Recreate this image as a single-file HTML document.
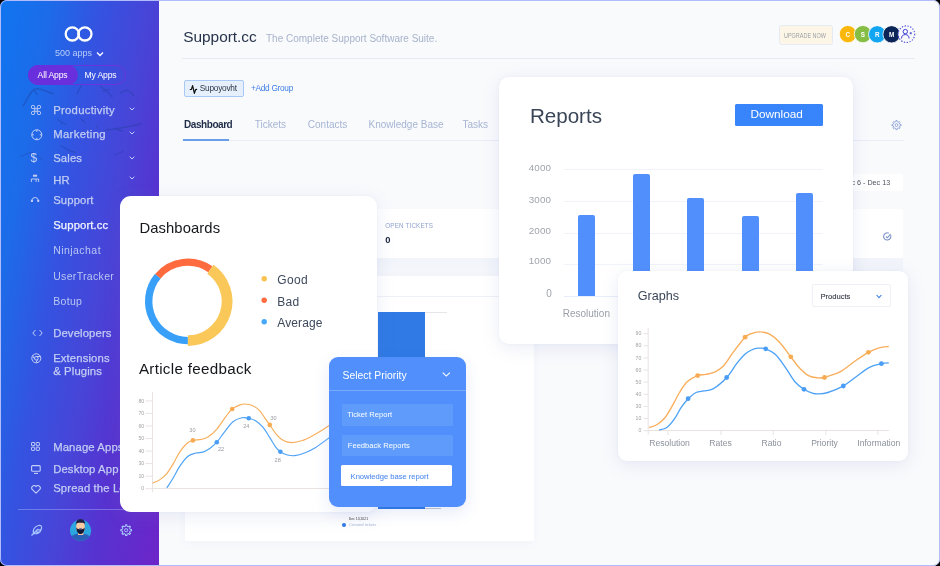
<!DOCTYPE html>
<html><head><meta charset="utf-8">
<style>
*{margin:0;padding:0;box-sizing:border-box}
html,body{width:940px;height:566px;background:#000;overflow:hidden;font-family:"Liberation Sans",sans-serif}
#frame{position:absolute;left:0;top:0;width:940px;height:566px;border-radius:7px;background:#f9fafc;overflow:hidden;will-change:transform}
#bord{position:absolute;left:0;top:0;width:940px;height:566px;border-radius:7px;border:1px solid #b3bcfb;z-index:100}
.a{position:absolute}
.t{position:absolute;white-space:nowrap;line-height:1}
#side{position:absolute;left:0;top:0;width:159px;height:566px;background:linear-gradient(100deg,#1075f0 0%,#1d6be9 20%,#3552e0 40%,#4745d8 58%,#5633d0 74%,#6d25c9 100%)}
.nav{position:absolute;left:53.2px;font-size:11.3px;color:#c2cdf4;letter-spacing:0.12px;-webkit-text-stroke:0.25px currentColor;white-space:nowrap;line-height:1}
.sub{position:absolute;left:53.2px;font-size:10.5px;color:#b9c7f3;letter-spacing:.33px;white-space:nowrap;line-height:1}
.chev{position:absolute;left:129px;width:6px;height:4px}
.ico{position:absolute;left:30px}
.card{position:absolute;background:#fff;border-radius:10px;box-shadow:0 4px 18px rgba(120,130,200,.14),0 0 4px rgba(120,130,200,.06)}
</style></head><body>
<div id="frame">

<!-- ================= SIDEBAR ================= -->
<div id="side"><div class="a" style="left:0;top:0.9px;width:159px;height:564px">
  <!-- birds -->
  <svg class="a" style="left:0;top:-0.9px" width="159" height="200" viewBox="0 0 159 200">
    <g fill="none" stroke="#1f3d9a" stroke-linecap="round" stroke-linejoin="round" opacity=".4">
      <path d="M23.2 105.8 C27 99 30 93 33.6 89.6 C36 88.6 38.5 88.6 41 89.4 C45 90.6 49 92.6 53 93.6" stroke-width="1.5"/>
      <path d="M33.6 90 L37.3 94.6" stroke-width="1.3"/>
      <path d="M76.8 94.3 C78.2 91.5 80 88 81.6 85.4" stroke-width="1.1"/>
      <path d="M100.1 86.3 C104 88.5 108 92 112 96.8 M103 91.2 L109 89.7" stroke-width="1.2"/>
      <path d="M120.6 93.4 C122.5 91.6 124.6 90.4 126.9 90.4 C129.5 91 131.8 93.2 133.6 95.6" stroke-width="1.2"/>
      <path d="M57.6 119.6 C60.5 121 63.5 123 66.3 124.9 M61.3 121.6 L61.8 124.2" stroke-width="1"/>
      <path d="M80.4 118.4 C82.3 120 84 121.8 85.6 123.7 M82 121.5 L84.3 120.3" stroke-width="1"/>
      <path d="M96.6 125.5 L97.3 128.4" stroke-width="1"/>
      <path d="M105.5 130.1 C112 129.3 118 128.6 124 127.5 C130 126.5 136 125.4 140.6 123.7 M116 129.3 L122 131" stroke-width="1.4"/>
      <path d="M61 146 C65 148 70 150.5 75.1 152.4" stroke-width=".9"/>
      <path d="M114.9 154.7 C117.8 153.5 120.8 152.3 123.7 151.2" stroke-width="1"/>
      <path d="M21.3 156.2 C24.5 154.8 28 153 31.5 152.6 C35 153 39 156 42.1 160" stroke-width=".9"/>
      <path d="M61.3 145.5 C63.5 147.3 65.8 149 68.1 150.6 C70.5 151.3 73 151.8 75.3 152.3" stroke-width=".9"/>
    </g>
  </svg>
  <!-- logo -->
  <svg class="a" style="left:63px;top:24.2px" width="32" height="18" viewBox="0 0 32 18">
    <circle cx="9.3" cy="8.9" r="6.6" fill="none" stroke="#fff" stroke-width="2.3"/>
    <circle cx="21.9" cy="8.9" r="6.6" fill="none" stroke="#fff" stroke-width="2.3"/>
  </svg>
  <div class="t" style="left:55px;top:48px;font-size:9px;color:#b7cdf7">500 apps</div>
  <svg class="a" style="left:96px;top:50.6px" width="8" height="6" viewBox="0 0 8 6"><path d="M1 1.5 L4 4.5 L7 1.5" fill="none" stroke="#fff" stroke-width="1.3"/></svg>
  <!-- toggle -->
  <div class="a" style="left:27.5px;top:64.5px;width:98.5px;height:19.5px;border:1.5px solid #6a34dc;border-radius:10px"></div>
  <div class="a" style="left:27.5px;top:64.5px;width:50px;height:19.5px;background:#6a2fdc;border-radius:10px"></div>
  <div class="t" style="left:37.6px;top:70.3px;font-size:8.6px;color:#fff;letter-spacing:-.15px">All Apps</div>
  <div class="t" style="left:84.5px;top:70.3px;font-size:8.6px;color:#fff;letter-spacing:-.15px">My Apps</div>

  <!-- nav -->
  <div class="nav" style="top:104px;letter-spacing:.28px">Productivity</div>
  <div class="nav" style="top:128px;letter-spacing:.35px">Marketing</div>
  <div class="nav" style="top:152px">Sales</div>
  <div class="nav" style="top:174px">HR</div>
  <div class="nav" style="top:194px">Support</div>
  <div class="nav" style="top:219.3px;color:#f2f5ff">Support.cc</div>
  <div class="sub" style="top:243.9px;letter-spacing:.45px">Ninjachat</div>
  <div class="sub" style="top:270.1px">UserTracker</div>
  <div class="sub" style="top:294.8px">Botup</div>
  <div class="nav" style="top:327.2px">Developers</div>
  <div class="nav" style="top:351.8px">Extensions</div>
  <div class="nav" style="top:364.8px">&amp; Plugins</div>
  <div class="nav" style="top:441.1px">Manage Apps</div>
  <div class="nav" style="top:462.7px">Desktop App</div>
  <div class="nav" style="top:482.4px">Spread the Love</div>

  <!-- chevrons -->
  <svg class="chev" style="top:106.5px" viewBox="0 0 6 4"><path d="M.7 .7 L3 3 L5.3 .7" fill="none" stroke="#c4d0f6" stroke-width="1"/></svg>
  <svg class="chev" style="top:130.5px" viewBox="0 0 6 4"><path d="M.7 .7 L3 3 L5.3 .7" fill="none" stroke="#c4d0f6" stroke-width="1"/></svg>
  <svg class="chev" style="top:154.8px" viewBox="0 0 6 4"><path d="M.7 .7 L3 3 L5.3 .7" fill="none" stroke="#c4d0f6" stroke-width="1"/></svg>
  <svg class="chev" style="top:175.5px" viewBox="0 0 6 4"><path d="M.7 .7 L3 3 L5.3 .7" fill="none" stroke="#c4d0f6" stroke-width="1"/></svg>

  <!-- icons -->
  <svg class="ico" style="top:104px;left:31.3px" width="10" height="10" viewBox="0 0 10 10"><path d="M3.7 8 V2 A1.7 1.7 0 1 0 2 3.7 H8 A1.7 1.7 0 1 0 6.3 2 V8 A1.7 1.7 0 1 0 8 6.3 H2 A1.7 1.7 0 1 0 3.7 8 Z" fill="none" stroke="#c2cdf4" stroke-width="0.9"/></svg>
  <svg class="ico" style="top:128.6px;left:31px" width="12" height="12" viewBox="0 0 12 12"><circle cx="5.8" cy="5.8" r="5" fill="none" stroke="#c4d0f6" stroke-width="1"/><path d="M5.8 .8 V2.8 M5.8 8.8 V10.8 M.8 5.8 H2.8 M8.8 5.8 H10.8" stroke="#c4d0f6" stroke-width="1"/></svg>
  <div class="t" style="left:30.5px;top:151.5px;font-size:12px;color:#c4d0f6">$</div>
  
  <svg class="a" style="left:28px;top:169.1px" width="16" height="36" viewBox="28 170 16 36"><rect x="33" y="174.7" width="4.1" height="2" fill="#c2cdf4"/><path d="M31.4 182 V179 H38.6 V182 M36.1 179 V182" fill="none" stroke="#c2cdf4" stroke-width="0.95"/><path d="M31.9 201 V200 A3.3 3.3 0 0 1 38.3 200 V201" fill="none" stroke="#c2cdf4" stroke-width="0.95"/><rect x="31" y="199.7" width="1.9" height="2.4" rx=".5" fill="#c2cdf4"/><rect x="37.3" y="199.7" width="1.9" height="2.4" rx=".5" fill="#c2cdf4"/></svg>
  <svg class="ico" style="top:328.5px;left:31.5px" width="11" height="8" viewBox="0 0 11 8"><path d="M3.5 1 L0.8 4 L3.5 7 M7.5 1 L10.2 4 L7.5 7" fill="none" stroke="#c4d0f6" stroke-width="1"/></svg>
  <svg class="ico" style="top:352.5px;left:31.2px" width="11" height="11" viewBox="0 0 11 11"><circle cx="5.3" cy="5.3" r="4.5" fill="none" stroke="#c4d0f6" stroke-width="1"/><circle cx="5.3" cy="5.3" r="1.8" fill="none" stroke="#c4d0f6" stroke-width="1"/><path d="M5.3 3.5 H9.6 M3.7 6.2 L1.6 2.5 M6.9 6.2 L4.8 9.8" stroke="#c4d0f6" stroke-width="1"/></svg>
  <svg class="ico" style="top:441.2px;left:31.3px" width="9" height="9" viewBox="0 0 9 9"><rect x="0.5" y="0.5" width="3.2" height="3.2" rx=".6" fill="none" stroke="#c4d0f6" stroke-width="1"/><rect x="5.2" y="0.5" width="3.2" height="3.2" rx=".6" fill="none" stroke="#c4d0f6" stroke-width="1"/><rect x="0.5" y="5.2" width="3.2" height="3.2" rx=".6" fill="none" stroke="#c4d0f6" stroke-width="1"/><rect x="5.2" y="5.2" width="3.2" height="3.2" rx=".6" fill="none" stroke="#c4d0f6" stroke-width="1"/></svg>
  <svg class="ico" style="top:464.5px;left:31px" width="10" height="9" viewBox="0 0 10 9"><rect x="0.6" y="0.6" width="8.6" height="5.6" rx="1" fill="none" stroke="#c4d0f6" stroke-width="1.1"/><path d="M3 8.4 H7" stroke="#c4d0f6" stroke-width="1.1"/></svg>
  <svg class="ico" style="top:484.5px;left:31px" width="10" height="9" viewBox="0 0 10 9"><path d="M5 8.2 L1.2 4.4 A2.2 2.2 0 0 1 5 1.6 A2.2 2.2 0 0 1 8.8 4.4 Z" fill="none" stroke="#c4d0f6" stroke-width="1.1" stroke-linejoin="round"/></svg>

  <div class="a" style="left:18px;top:508.5px;width:140px;height:1px;background:rgba(170,180,255,.45)"></div>
  <!-- bottom icons -->
  <svg class="a" style="left:30px;top:523.3px" width="13" height="13" viewBox="0 0 13 13"><path d="M1.5 11.5 L8 5 M3.5 9.5 C2.5 6 4.5 2.5 8.5 1.5 C11 1 12 2 11.5 4.5 C10.5 8.5 7 10.5 3.5 9.5 Z M5 8 H9 M6.5 5.8 H10.8" fill="none" stroke="#a8c8ff" stroke-width="1.2"/></svg>
  <svg class="a" style="left:69px;top:517.1px" width="24" height="25" viewBox="69 518 24 25">
    <defs><clipPath id="av"><circle cx="80.6" cy="530.4" r="10.6"/></clipPath></defs>
    <circle cx="80.6" cy="530.4" r="10.6" fill="#2ca6e0"/>
    <g clip-path="url(#av)">
      <path d="M68 543 C69 536 74 533.5 80.6 533.5 C87 533.5 92 536 93 543Z" fill="#2a5fb8"/>
      <rect x="78" y="531" width="5.4" height="4" fill="#f2c19c"/>
    </g>
    <path d="M76.3 525 C76.3 522 77.8 520.2 80.5 520.2 C83.3 520.2 84.8 522 84.8 525 V528.5 C84.8 531 83 532.2 80.5 532.2 C78 532.2 76.3 531 76.3 528.5Z" fill="#f9cba3"/>
    <path d="M75.9 525.2 C75.6 521 77.5 519.3 80.5 519.3 C83.6 519.3 85.4 521 85.1 525.2 L84.4 523.2 C82 522.6 79 522.6 76.6 523.2Z" fill="#1b2140"/>
    <path d="M76.3 527.5 C76.5 532 78.3 534 80.5 534 C82.7 534 84.5 532 84.7 527.5 C83.5 529 82.3 529.2 80.5 529.2 C78.7 529.2 77.5 529 76.3 527.5Z" fill="#141a33"/>
    <rect x="79" y="528.3" width="3" height=".9" rx=".4" fill="#4a5aa0"/>
  </svg>
  <svg class="a" style="left:119px;top:522.1px" width="14" height="16" viewBox="119 523 14 16"><path d="M125.33 526.29 L125.54 524.84 L126.86 524.84 L127.07 526.29 L128.35 526.83 L129.52 525.94 L130.46 526.88 L129.57 528.05 L130.11 529.33 L131.56 529.54 L131.56 530.86 L130.11 531.07 L129.57 532.35 L130.46 533.52 L129.52 534.46 L128.35 533.57 L127.07 534.11 L126.86 535.56 L125.54 535.56 L125.33 534.11 L124.05 533.57 L122.88 534.46 L121.94 533.52 L122.83 532.35 L122.29 531.07 L120.84 530.86 L120.84 529.54 L122.29 529.33 L122.83 528.05 L121.94 526.88 L122.88 525.94 L124.05 526.83Z" fill="none" stroke="#a8c8ff" stroke-width="1.05" stroke-linejoin="round"/><circle cx="126.2" cy="530.2" r="1.6" fill="none" stroke="#a8c8ff" stroke-width="1"/></svg>
</div></div>

<!-- ================= MAIN BACKGROUND ================= -->
<div class="t" style="left:183.2px;top:28.7px;font-size:15.4px;color:#26334a">Support.cc</div>
<div class="t" style="left:266px;top:33.5px;font-size:10px;color:#a7b3cb">The Complete Support Software Suite.</div>
<div class="a" style="left:182px;top:57.6px;width:733px;height:1.1px;background:#e5eaf4"></div>

<!-- upgrade + avatars -->
<div class="a" style="left:779.2px;top:25.1px;width:53.4px;height:20.2px;background:#fdf6e6;border:1px solid #e5eaf4;border-radius:2.5px"></div>
<div class="t" style="left:784px;top:33.1px;font-size:6.6px;color:#9a9fa6;transform:scaleX(.83);transform-origin:0 0">UPGRADE NOW</div>

<svg class="a" style="left:836px;top:22px" width="84" height="26" viewBox="836 22 84 26">
  <g stroke="#fff" stroke-width="0.8">
  <circle cx="847.9" cy="34.1" r="8.65" fill="#fbb80a"/>
  <circle cx="862.9" cy="34.1" r="8.65" fill="#86bd45"/>
  <circle cx="877.2" cy="34.3" r="8.65" fill="#12a6f2"/>
  <circle cx="891.6" cy="34.3" r="8.65" fill="#0b2558"/>
  </g>
  <g font-family="Liberation Sans" font-weight="bold" font-size="6.3" fill="#fff" text-anchor="middle">
  <text x="847.9" y="36.6">C</text><text x="862.9" y="36.6">S</text><text x="877.2" y="36.8">R</text><text x="891.6" y="36.8">M</text>
  </g>
  <circle cx="906.4" cy="34.2" r="8.3" fill="#f8f9fc" stroke="#4448d8" stroke-width="1.1" stroke-dasharray="1.3 1.55"/>
  <circle cx="905.3" cy="31.6" r="2.2" fill="none" stroke="#3d40d2" stroke-width="1"/>
  <path d="M901.5 38.5 C901.5 35.8 903 34.6 905.3 34.6 C907.6 34.6 909.1 35.8 909.1 38.5" fill="none" stroke="#3d40d2" stroke-width="1"/>
  <path d="M909.6 33.2 H912 M910.8 32 V34.4" stroke="#3d40d2" stroke-width="0.8"/>
</svg>

<!-- tag + add group -->
<div class="a" style="left:184.2px;top:80.3px;width:59.7px;height:16.3px;background:#e6effc;border:1px solid #a8c9f5;border-radius:2px"></div>
<svg class="a" style="left:188px;top:83px" width="11" height="12" viewBox="188 83 11 12"><path d="M190.2 89.5 L191.4 89.4 L192.6 85.7 L194.4 93.3 L195.6 89.6 L196.7 89.3" fill="none" stroke="#111" stroke-width="1.25" stroke-linejoin="round" stroke-linecap="round"/></svg>
<div class="t" style="left:199.8px;top:83.9px;font-size:8.3px;color:#2e3747;letter-spacing:-.25px">Supoyovht</div>
<div class="t" style="left:251px;top:83.9px;font-size:8.3px;color:#3f7fe6;letter-spacing:-.3px">+Add Group</div>

<!-- tabs -->
<div class="t" style="left:184.1px;top:119.5px;font-size:10px;font-weight:bold;color:#1f2c47;letter-spacing:-0.45px">Dashboard</div>
<div class="t" style="left:254.8px;top:119.5px;font-size:10px;color:#a6b5d3">Tickets</div>
<div class="t" style="left:307.8px;top:119.5px;font-size:10px;color:#a6b5d3">Contacts</div>
<div class="t" style="left:368.5px;top:119.5px;font-size:10px;color:#a6b5d3">Knowledge Base</div>
<div class="t" style="left:462.5px;top:119.5px;font-size:10px;color:#a6b5d3">Tasks</div>
<div class="a" style="left:182px;top:139.6px;width:722px;height:1.2px;background:#e8edf6"></div>
<div class="a" style="left:183.1px;top:139.1px;width:45.9px;height:1.8px;background:#6a9ee8"></div>

<!-- gear right -->
<svg class="a" style="left:889px;top:118px" width="15" height="15" viewBox="889 118 15 15"><path d="M895.76 121.78 L895.94 120.53 L897.06 120.53 L897.24 121.78 L898.33 122.23 L899.33 121.48 L900.12 122.27 L899.37 123.27 L899.82 124.36 L901.07 124.54 L901.07 125.66 L899.82 125.84 L899.37 126.93 L900.12 127.93 L899.33 128.72 L898.33 127.97 L897.24 128.42 L897.06 129.67 L895.94 129.67 L895.76 128.42 L894.67 127.97 L893.67 128.72 L892.88 127.93 L893.63 126.93 L893.18 125.84 L891.93 125.66 L891.93 124.54 L893.18 124.36 L893.63 123.27 L892.88 122.27 L893.67 121.48 L894.67 122.23Z" fill="none" stroke="#8ea2d6" stroke-width="0.95" stroke-linejoin="round"/><circle cx="896.5" cy="125.1" r="1.4" fill="none" stroke="#8ea2d6" stroke-width=".9"/></svg>

<!-- date box -->
<div class="a" style="left:700px;top:174px;width:203px;height:16.5px;background:#fff;border-radius:2px"></div>
<div class="t" style="right:49.8px;top:179.1px;font-size:7.2px;color:#4d525c">Dec 6 - Dec 13</div>

<!-- stats strip -->
<div class="a" style="left:184px;top:209px;width:719px;height:49px;background:#fff;border-radius:3px"></div>
<div class="t" style="left:385.3px;top:222.6px;font-size:6.3px;color:#8ea3cf;letter-spacing:.15px">OPEN TICKETS</div>
<div class="t" style="left:385.3px;top:234.6px;font-size:9.4px;font-weight:bold;color:#1b2440">0</div>
<svg class="a" style="left:883px;top:232px" width="9" height="9" viewBox="0 0 9 9"><path d="M7.6 3.2 A3.6 3.6 0 1 1 5.8 1.2" fill="none" stroke="#7a90c8" stroke-width="1.1"/><path d="M3 4.5 L4.3 5.8 L7.6 2.2" fill="none" stroke="#7a90c8" stroke-width="1.1"/></svg>
<div class="a" style="left:184px;top:258px;width:719px;height:18px;background:linear-gradient(#f1f4fa,#f5f7fb)"></div>

<!-- big panel -->
<div class="a" style="left:185px;top:276px;width:349px;height:264.5px;background:#fff;box-shadow:0 2px 8px rgba(120,130,200,.06)"></div>
<div class="a" style="left:185px;top:296px;width:349px;height:1px;background:#eef1f8"></div>
<div class="a" style="left:377.7px;top:312.3px;width:47px;height:196.6px;background:#2f7ae5"></div>
<div class="a" style="left:424.6px;top:312px;width:22px;height:1px;background:#e4e6ea"></div>
<div class="a" style="left:424.6px;top:508px;width:16.4px;height:1px;background:#c4c6cc"></div>
<div class="t" style="left:348.8px;top:518px;font-size:3.4px;color:#333">Dec 13,2021</div>
<div class="a" style="left:341.8px;top:522.6px;width:4.6px;height:4.6px;border-radius:50%;background:#2f7ae5"></div>
<div class="t" style="left:349px;top:523.4px;font-size:4.1px;color:#a8b6d6">Created tickets</div>

<!-- ================= REPORTS CARD ================= -->
<div class="card" style="left:498.7px;top:77px;width:354px;height:266.5px;border-radius:10px">
  <div class="t" style="left:31.2px;top:28.7px;font-size:20.6px;color:#3a4658;letter-spacing:0px">Reports</div>
  <div class="a" style="left:236.8px;top:27px;width:87.3px;height:21.6px;background:#3884fa;border-radius:1.5px"></div>
  <div class="t" style="left:251.7px;top:31.7px;font-size:11.8px;color:#fff;letter-spacing:0px">Download</div>
  <!-- grid -->
  <div class="a" style="left:65.7px;top:92.2px;width:258.3px;height:1px;background:#f0f3fa"></div>
  <div class="a" style="left:65.7px;top:123.9px;width:258.3px;height:1px;background:#f0f3fa"></div>
  <div class="a" style="left:65.7px;top:155.6px;width:258.3px;height:1px;background:#f0f3fa"></div>
  <div class="a" style="left:65.7px;top:187.3px;width:258.3px;height:1px;background:#f0f3fa"></div>
  <div class="a" style="left:65.7px;top:218.6px;width:258.3px;height:1px;background:#e8eefb"></div>
  <div class="t" style="left:30.1px;top:85.6px;font-size:9.8px;color:#a0a4ac;letter-spacing:.1px">4000</div>
  <div class="t" style="left:30.1px;top:117.7px;font-size:9.8px;color:#a0a4ac;letter-spacing:.1px">3000</div>
  <div class="t" style="left:30.1px;top:148.8px;font-size:9.8px;color:#a0a4ac;letter-spacing:.1px">2000</div>
  <div class="t" style="left:30.1px;top:179.2px;font-size:9.8px;color:#a0a4ac;letter-spacing:.1px">1000</div>
  <div class="t" style="left:47.6px;top:212.2px;font-size:10px;color:#a0a4ac">0</div>
  <div class="a" style="left:79.3px;top:138.1px;width:17px;height:81px;background:#5190fc;border-radius:2px 2px 0 0"></div>
  <div class="a" style="left:134.3px;top:97px;width:17px;height:122px;background:#5190fc;border-radius:2px 2px 0 0"></div>
  <div class="a" style="left:188.5px;top:120.7px;width:17px;height:98.5px;background:#5190fc;border-radius:2px 2px 0 0"></div>
  <div class="a" style="left:243.7px;top:138.9px;width:17px;height:80.5px;background:#5190fc;border-radius:2px 2px 0 0"></div>
  <div class="a" style="left:297.2px;top:115.7px;width:17px;height:103.5px;background:#5190fc;border-radius:2px 2px 0 0"></div>
  <div class="t" style="left:64px;top:231.8px;font-size:10px;color:#9a9fa8">Resolution</div>
</div>

<!-- ================= GRAPHS CARD ================= -->
<div class="card" style="left:617.5px;top:270.5px;width:290.8px;height:190.5px;border-radius:9px">
  <div class="t" style="left:20.2px;top:19.4px;font-size:12.6px;color:#3a4658;letter-spacing:0px">Graphs</div>
  <div class="a" style="left:194.9px;top:13.9px;width:78.2px;height:22.2px;border:1px solid #eef0f6;border-radius:2px"></div>
  <div class="t" style="left:202.9px;top:22.2px;font-size:7.6px;color:#3e434d;-webkit-text-stroke:.15px #3e434d">Products</div>
  <svg class="a" style="left:258.8px;top:23.2px" width="6" height="5" viewBox="0 0 6 5"><path d="M.6 1 L3 3.6 L5.4 1" fill="none" stroke="#3d7de8" stroke-width="1.1"/></svg>
  <svg class="a" style="left:0;top:0" width="290.8" height="190.5" viewBox="617.5 270.5 290.8 190.5">
    <g stroke="#e9e3e3" stroke-width="1" fill="none"><path d="M647.7 327.4 V434.5 M647.7 430 H888.5"/><path d="M643.2 333.1 H647.7"/><path d="M643.2 345.2 H647.7"/><path d="M643.2 357.4 H647.7"/><path d="M643.2 369.5 H647.7"/><path d="M643.2 381.6 H647.7"/><path d="M643.2 393.8 H647.7"/><path d="M643.2 405.9 H647.7"/><path d="M643.2 418.1 H647.7"/><path d="M643.2 430.2 H647.7"/><path d="M667.6 430 V434.5"/><path d="M720.4 430 V434.5"/><path d="M772.8 430 V434.5"/><path d="M825.4 430 V434.5"/><path d="M877.4 430 V434.5"/></g>
    <g font-family="Liberation Sans" font-size="5.2" fill="#a3a3a8" text-anchor="end"><text x="640.8" y="334.9">90</text><text x="640.8" y="347.0">80</text><text x="640.8" y="359.2">70</text><text x="640.8" y="371.3">60</text><text x="640.8" y="383.4">50</text><text x="640.8" y="395.6">40</text><text x="640.8" y="407.7">30</text><text x="640.8" y="419.9">10</text><text x="640.8" y="432.0">0</text></g>
    <g font-family="Liberation Sans" font-size="8.6" fill="#8c919b" text-anchor="middle"><text x="669" y="445.5">Resolution</text><text x="720" y="445.5">Rates</text><text x="771" y="445.5">Ratio</text><text x="824" y="445.5">Priority</text><text x="878.3" y="445.5">Information</text></g>
    <path d="M648.5 427.0 C649.9 426.5 654.1 425.6 656.7 424.0 C659.4 422.4 661.8 420.4 664.4 417.2 C667.0 414.0 669.8 408.8 672.2 404.6 C674.6 400.4 676.6 395.9 679.0 392.0 C681.4 388.1 683.7 384.1 686.7 381.3 C689.7 378.5 693.9 376.3 697.0 375.1 C700.1 373.9 702.4 374.5 705.2 373.9 C708.0 373.3 711.0 373.0 713.9 371.6 C716.8 370.2 719.6 369.0 722.7 365.8 C725.8 362.6 728.8 357.1 732.4 352.2 C736.0 347.3 741.4 339.9 744.6 336.7 C747.8 333.5 749.1 333.7 751.7 332.8 C754.3 331.9 757.5 331.2 760.4 331.4 C763.3 331.5 766.0 332.0 769.1 333.7 C772.2 335.4 775.3 337.8 778.8 341.5 C782.3 345.2 786.9 351.9 790.1 356.1 C793.4 360.3 795.3 363.5 798.3 366.7 C801.3 369.9 804.8 373.3 808.0 375.1 C811.2 376.9 815.1 377.1 817.7 377.4 C820.4 377.7 821.3 377.6 823.9 377.0 C826.5 376.4 830.2 375.0 833.2 373.9 C836.2 372.8 838.0 372.4 841.7 370.1 C845.4 367.8 850.9 363.1 855.3 360.0 C859.7 356.9 864.0 353.9 867.9 351.8 C871.8 349.7 875.2 348.4 878.6 347.4 C882.0 346.4 886.7 346.2 888.3 346.0" fill="none" stroke="#f8ae5a" stroke-width="1.35"/>
    <path d="M658.6 429.5 C659.9 429.1 663.8 428.9 666.4 427.0 C669.0 425.1 671.7 421.6 674.1 418.2 C676.5 414.8 678.6 409.9 680.9 406.6 C683.2 403.3 685.3 400.6 687.7 398.2 C690.1 395.8 692.9 393.3 695.5 392.0 C698.1 390.7 700.4 391.0 703.3 390.4 C706.2 389.8 709.2 390.3 713.0 388.1 C716.8 385.9 722.3 381.2 726.2 377.0 C730.1 372.8 733.2 366.9 736.3 362.9 C739.4 358.9 742.5 355.4 745.0 353.2 C747.5 351.0 748.9 350.4 751.0 349.5 C753.1 348.6 755.1 347.9 757.5 347.7 C759.9 347.5 762.3 347.2 765.2 348.3 C768.1 349.4 771.8 351.0 775.0 354.1 C778.2 357.2 781.5 362.2 784.7 366.7 C787.9 371.2 791.3 377.6 794.4 381.3 C797.5 385.0 800.6 386.8 803.5 388.7 C806.4 390.6 809.4 391.8 811.8 392.6 C814.2 393.4 815.1 393.5 817.7 393.4 C820.3 393.3 823.2 393.3 827.4 392.0 C831.5 390.7 838.0 388.3 842.6 385.7 C847.2 383.1 850.9 379.6 855.3 376.5 C859.7 373.4 864.6 369.0 868.9 366.8 C873.2 364.6 877.7 363.9 880.9 363.1 C884.1 362.4 887.1 362.4 888.3 362.3" fill="none" stroke="#4ea2f6" stroke-width="1.35"/>
    <g fill="#f8ab52"><circle cx="697.2" cy="375.1" r="2.4"/><circle cx="744.6" cy="336.7" r="2.4"/><circle cx="790.3" cy="356.3" r="2.4"/><circle cx="824" cy="377" r="2.4"/><circle cx="867.9" cy="351.8" r="2.4"/></g>
    <g fill="#4a9df5"><circle cx="687.6" cy="398.2" r="2.4"/><circle cx="726.2" cy="377" r="2.4"/><circle cx="765.2" cy="348.3" r="2.4"/><circle cx="803.5" cy="388.8" r="2.4"/><circle cx="842.8" cy="385.5" r="2.4"/><circle cx="880.9" cy="363.2" r="2.4"/></g>
  </svg>
</div>
<!-- ================= DASHBOARDS CARD ================= -->
<div class="card" style="left:120px;top:195.8px;width:257.2px;height:316.4px;border-radius:11px">
  <div class="t" style="left:19.4px;top:24.9px;font-size:14.8px;color:#15171c;letter-spacing:.1px">Dashboards</div>
  <div class="t" style="left:18.9px;top:165.1px;font-size:15.2px;color:#15171c;letter-spacing:.3px">Article feedback</div>
  <div class="t" style="left:157.3px;top:78.1px;font-size:12px;color:#3d495c;letter-spacing:.3px">Good</div>
  <div class="t" style="left:157.3px;top:99.9px;font-size:12px;color:#3d495c;letter-spacing:.3px">Bad</div>
  <div class="t" style="left:157.3px;top:121.3px;font-size:12px;color:#3d495c;letter-spacing:.1px">Average</div>
  <svg class="a" style="left:0;top:0" width="257.2" height="316.4" viewBox="120 195.8 257.2 316.4">
    <path d="M187.90 340.40 A39.2 39.2 0 0 1 157.87 276.00" fill="none" stroke="#38a0f8" stroke-width="7.4"/>
    <path d="M157.87 276.00 A39.2 39.2 0 0 1 210.38 269.09" fill="none" stroke="#ff6a3f" stroke-width="7.2"/>
    <path d="M210.38 269.09 A39.2 39.2 0 0 1 187.90 340.40" fill="none" stroke="#f9c859" stroke-width="10.8"/>
    <circle cx="264.2" cy="278.6" r="2.7" fill="#f9c24e"/>
    <circle cx="264.2" cy="300.1" r="2.7" fill="#ff6a3f"/>
    <circle cx="264.2" cy="321.5" r="2.7" fill="#45a8fa"/>
    <g stroke="#e9e3e1" stroke-width="1" fill="none"><path d="M152.5 392 V492 M152.5 488.3 H340"/><path d="M145.5 400.7 H152.5"/><path d="M145.5 413.2 H152.5"/><path d="M145.5 425.8 H152.5"/><path d="M145.5 438.3 H152.5"/><path d="M145.5 450.9 H152.5"/><path d="M145.5 463.4 H152.5"/><path d="M145.5 476.0 H152.5"/><path d="M145.5 488.5 H152.5"/></g>
    <g font-family="Liberation Sans" font-size="5.2" fill="#a3a3a8" text-anchor="end"><text x="144.2" y="402.5">80</text><text x="144.2" y="415.0">70</text><text x="144.2" y="427.6">60</text><text x="144.2" y="440.1">50</text><text x="144.2" y="452.7">40</text><text x="144.2" y="465.2">30</text><text x="144.2" y="477.8">10</text><text x="144.2" y="490.3">0</text></g>
    <path d="M152.5 482.8 C153.6 482.4 156.6 481.6 158.8 480.2 C161.0 478.8 163.5 477.2 165.9 474.5 C168.3 471.8 170.7 467.7 173.0 463.9 C175.3 460.1 177.7 455.0 180.0 451.5 C182.3 448.0 184.9 445.0 187.1 443.1 C189.2 441.2 190.6 440.9 192.9 440.2 C195.2 439.5 198.6 439.8 201.2 439.2 C203.8 438.6 205.7 438.3 208.3 436.5 C211.0 434.7 214.2 432.0 217.1 428.6 C220.0 425.2 223.5 419.5 226.0 416.2 C228.5 412.9 229.8 410.7 232.2 408.8 C234.5 406.9 238.0 405.5 240.1 404.7 C242.2 403.9 243.0 403.7 245.0 403.8 C247.0 403.9 249.8 404.3 252.1 405.3 C254.4 406.3 257.1 408.0 259.1 410.0 C261.2 412.0 262.6 414.7 264.4 417.1 C266.2 419.6 267.7 421.8 269.8 424.7 C271.9 427.6 274.5 432.1 276.8 434.8 C279.1 437.5 281.4 439.3 283.9 440.6 C286.4 441.9 288.9 442.4 291.9 442.4 C294.8 442.4 298.2 441.7 301.6 440.6 C305.0 439.5 308.7 437.6 312.2 435.7 C315.7 433.8 319.5 431.5 322.8 429.5 C326.1 427.5 330.5 424.5 332.0 423.5" fill="none" stroke="#f8ae5a" stroke-width="1.15"/>
    <path d="M166.8 487.8 C167.8 486.2 170.8 481.7 173.0 478.0 C175.2 474.3 177.5 469.4 180.0 465.7 C182.5 462.0 185.3 458.1 188.0 456.0 C190.7 453.9 193.4 453.5 195.9 452.8 C198.4 452.1 200.6 452.7 203.0 451.9 C205.4 451.1 207.8 449.6 210.1 448.0 C212.4 446.4 214.5 444.6 216.8 442.0 C219.2 439.4 221.5 435.5 224.2 432.1 C226.9 428.7 230.1 423.9 233.0 421.5 C235.9 419.1 239.3 418.2 241.9 417.6 C244.5 417.0 246.5 417.5 248.8 418.0 C251.1 418.5 253.3 419.1 255.6 420.6 C257.9 422.1 260.3 424.0 262.7 426.8 C265.1 429.6 267.6 434.0 269.8 437.4 C272.0 440.8 274.1 444.8 275.9 447.2 C277.7 449.6 278.5 450.3 280.4 451.6 C282.3 452.9 285.0 454.2 287.4 454.8 C289.8 455.4 291.6 455.9 294.5 455.5 C297.4 455.1 301.6 453.9 305.1 452.5 C308.6 451.1 311.2 450.0 315.7 447.2 C320.2 444.4 329.3 437.4 332.0 435.5" fill="none" stroke="#4ea2f6" stroke-width="1.15"/>
    <g fill="#f8ab52"><circle cx="192.9" cy="440.2" r="2.3"/><circle cx="232.2" cy="408.8" r="2.3"/><circle cx="269.8" cy="424.7" r="2.3"/></g>
    <g fill="#4a9df5"><circle cx="216.8" cy="442" r="2.3"/><circle cx="248.8" cy="418" r="2.3"/><circle cx="280.4" cy="451.6" r="2.3"/></g>
    <g font-family="Liberation Sans" font-size="5.6" fill="#9a9ca3" text-anchor="middle"><text x="192.4" y="432.3">30</text><text x="221" y="450.9">22</text><text x="246.3" y="428.3">24</text><text x="273.6" y="419.6">30</text><text x="277.7" y="462.1">28</text></g>
  </svg>
</div>

<!-- ================= DROPDOWN ================= -->
<div class="a" style="left:329.4px;top:357px;width:137px;height:150px;background:#5190fc;border-radius:9px;box-shadow:0 6px 16px rgba(60,100,200,.12)">
  <div class="t" style="left:13.2px;top:13.9px;font-size:10.4px;color:#fff;letter-spacing:0px">Select Priority</div>
  <svg class="a" style="left:112.4px;top:15px" width="9" height="5" viewBox="0 0 9 5"><path d="M.7 .7 L4.3 4.1 L7.9 .7" fill="none" stroke="#fff" stroke-width="1.1"/></svg>
  <div class="a" style="left:0;top:32.6px;width:137px;height:1px;background:#78a9fa"></div>
  <div class="a" style="left:12.5px;top:47px;width:111px;height:21.5px;background:#5e9bfa;border-radius:1px"></div>
  <div class="t" style="left:17.8px;top:54.3px;font-size:7.6px;color:#fff">Ticket Report</div>
  <div class="a" style="left:12.5px;top:78.2px;width:111px;height:20.8px;background:#5e9bfa;border-radius:1px"></div>
  <div class="t" style="left:18.4px;top:85.2px;font-size:7.6px;color:#fff">Feedback Reports</div>
  <div class="a" style="left:12.1px;top:107.9px;width:111px;height:21.6px;background:#fff;border-radius:1.5px"></div>
  <div class="t" style="left:21.2px;top:115.8px;font-size:7.6px;color:#4a86ee;-webkit-text-stroke:.05px #4a86ee">Knowledge base report</div>
</div>
<div id="bord"></div>
</div>
</body></html>
